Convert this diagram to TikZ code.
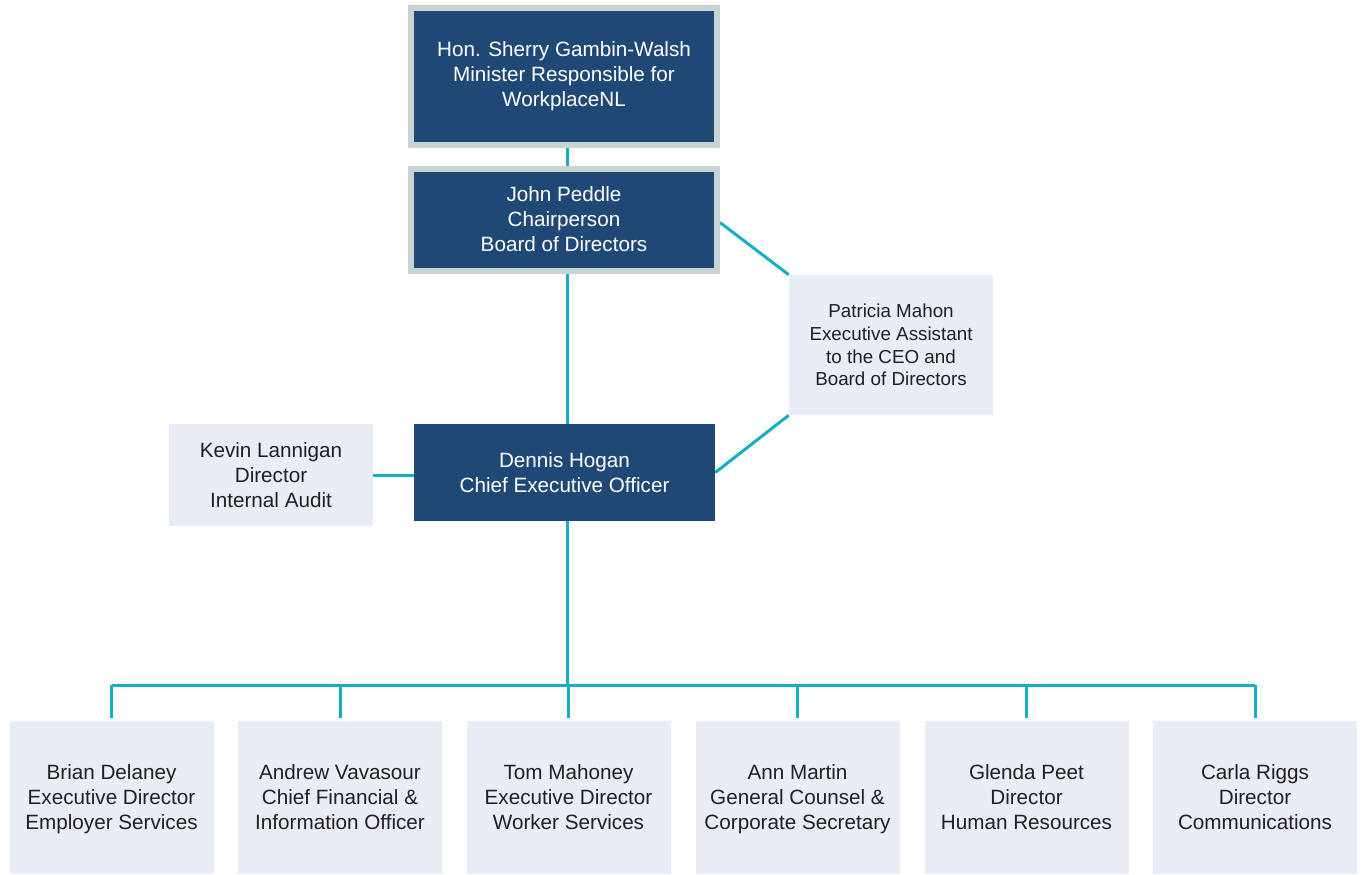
\documentclass[tikz,border=0pt]{standalone}
\usepackage{fontspec}
\setmainfont{Liberation Sans}
\usetikzlibrary{backgrounds}
\definecolor{navy}{HTML}{1F4876}
\definecolor{frame}{HTML}{C9D3D1}
\definecolor{pale}{HTML}{E9EDF6}
\definecolor{ink}{HTML}{231F20}
\definecolor{cyanline}{HTML}{13AFC7}
\tikzset{
  darkbox/.style={fill=navy, draw=frame, line width=4.5pt, text=white, align=center,
    inner sep=0pt, font=\fontsize{15.5pt}{18.75pt}\selectfont},
  ceobox/.style={fill=navy, draw=none, text=white, align=center, inner sep=0pt,
    minimum width=225.75pt, minimum height=72.75pt, font=\fontsize{15.5pt}{18.75pt}\selectfont},
  palebox/.style={fill=pale, draw=none, text=ink, align=center, inner sep=0pt,
    font=\fontsize{15.5pt}{18.75pt}\selectfont},
  staffbox/.style={palebox, minimum width=153pt, minimum height=114.75pt,
    text depth=0pt, execute at begin node={\rule{0pt}{15pt}}},
  link/.style={draw=cyanline, line width=2.25pt},
}
\begin{document}
\begin{tikzpicture}[x=0.75pt, y=-0.75pt]
\useasboundingbox (0,0) rectangle (1362,874);
\coordinate (spine) at (567,0);
\node[darkbox, minimum width=229.5pt, minimum height=102pt] (min) at (564,76.5)
  {Hon. Sherry Gambin-Walsh\\Minister Responsible for\\WorkplaceNL};
\node[darkbox, minimum width=229.5pt, minimum height=76.5pt] (chair) at (564,219.5)
  {John Peddle\\Chairperson\\Board of Directors};
\node[palebox, minimum width=153pt, minimum height=105pt,
  font=\fontsize{14.1pt}{17pt}\selectfont] (pat) at (891,345)
  {Patricia Mahon\\Executive Assistant\\to the CEO and\\Board of Directors};
\node[ceobox] (ceo) at (564.5,472.5) {Dennis Hogan\\Chief Executive Officer};
\node[palebox, minimum width=153pt, minimum height=76.5pt] (kev) at (271,475)
  {Kevin Lannigan\\Director\\Internal Audit};
\node[staffbox] (b1) at (111.5,797.5) {Brian Delaney\\Executive Director\\Employer Services};
\node[staffbox] (b2) at (340,797.5) {Andrew Vavasour\\Chief Financial \&\\Information Officer};
\node[staffbox] (b3) at (568.5,797.5) {Tom Mahoney\\Executive Director\\Worker Services};
\node[staffbox] (b4) at (797.5,797.5) {Ann Martin\\General Counsel \&\\Corporate Secretary};
\node[staffbox] (b5) at (1026.5,797.5) {Glenda Peet\\Director\\Human Resources};
\node[staffbox] (b6) at (1255,797.5) {Carla Riggs\\Director\\Communications};
\coordinate (bus) at (0,685);
\begin{scope}[on background layer]
  \draw[link] (min.south -| spine) -- (chair.north -| spine);
  \draw[link] (chair.south -| spine) -- (ceo.north -| spine);
  \draw[link] (ceo.south -| spine) -- (bus -| spine);
  \draw[link] (bus -| b1.north) -- (bus -| b6.north);
  \foreach \b in {b1,b2,b3,b4,b5,b6}
    \draw[link, shorten >=2.25pt] (bus -| \b.north) -- (\b.north);
  \draw[link] (kev.east) -- (ceo.west |- kev.east);
  \draw[link] ([yshift=-2.25pt]chair.east) -- (pat.north west);
  \draw[link] (pat.south west) -- (ceo.east);
\end{scope}
\end{tikzpicture}
\end{document}
